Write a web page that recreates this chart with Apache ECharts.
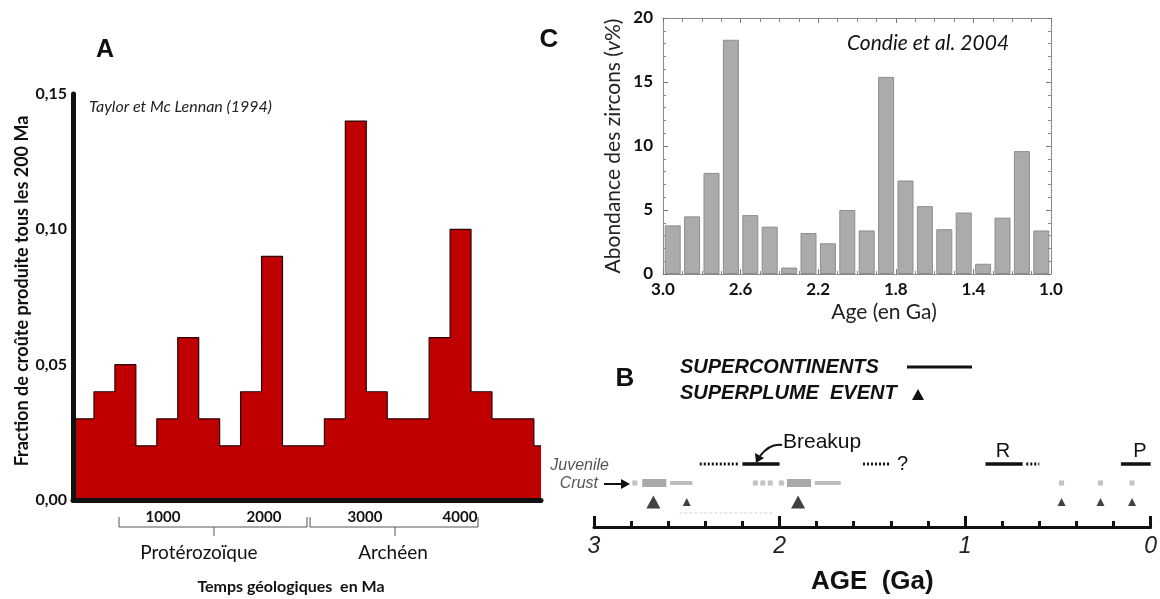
<!DOCTYPE html>
<html><head><meta charset="utf-8">
<script src="https://cdn.jsdelivr.net/npm/echarts@6/dist/echarts.min.js"></script>
<style>html,body{margin:0;padding:0;background:#fff}#c{width:1160px;height:599px}</style>
</head><body><div id="c"></div>
<script>
// ---------- Panel A : Taylor & McLennan (1994) ----------
const crustBinStartMa = [0,200,400,600,800,1000,1200,1400,1600,1800,2000,2200,2400,2600,2800,3000,3200,3400,3600,3800,4000,4200,4400];
const crustFraction   = [0.03,0.04,0.05,0.02,0.03,0.06,0.03,0.02,0.04,0.09,0.02,0.02,0.03,0.14,0.04,0.03,0.03,0.06,0.10,0.04,0.03,0.03,0.02];
const crustEndMa = 4468;
const crustTickLabels = ['1000','2000','3000','4000'];
const eonNames = ['Protérozoïque','Archéen'];

// ---------- Panel C : Condie et al. 2004 ----------
const zirconAgeGa = [2.95,2.85,2.75,2.65,2.55,2.45,2.35,2.25,2.15,2.05,1.95,1.85,1.75,1.65,1.55,1.45,1.35,1.25,1.15,1.05];
const zirconAbundance = [3.8,4.5,7.9,18.3,4.6,3.7,0.5,3.2,2.4,5.0,3.4,15.4,7.3,5.3,3.5,4.8,0.8,4.4,9.6,3.4];

// ---------- Panel B : supercontinents / superplumes ----------
const supercontinentSolid  = [[2.20,2.00],[0.89,0.69],[0.16,0.00]];
const supercontinentDotted = [[2.43,2.22],[1.55,1.41],[0.67,0.60]];
const superplumeBig   = [2.68,1.90];
const superplumeSmall = [2.50,0.48,0.27,0.10];
const juvenileThick = [[2.74,2.61],[1.96,1.83]];
const juvenileThin  = [[2.59,2.47],[1.81,1.67]];
const juvenileDots  = [2.78,2.13,2.09,2.05,1.99,0.48,0.27,0.10];
const faintTrace    = [[2.54,2.03]];

// row levels of panel B (0..100 hidden axis)
const ROW_SC = 63, ROW_JUV = 44, ROW_SP = 25, ROW_FAINT = 14;

const FA = 'Lato, "Open Sans", sans-serif';
const FB = '"Liberation Sans", Arial, sans-serif';

const chart = echarts.init(document.getElementById('c'), null, {renderer:'canvas'});

const stepData = crustBinStartMa.map((m,i)=>[m, crustFraction[i]]);
stepData.push([crustEndMa, crustFraction[crustFraction.length-1]]);

function segSeries(data, row, style){
  return {type:'custom', xAxisIndex:3, yAxisIndex:3, data:data, silent:true,
    renderItem:function(p, api){
      const a = api.coord([api.value(0), row]);
      const b = api.coord([api.value(1), row]);
      return {type:'line', shape:{x1:a[0],y1:a[1],x2:b[0],y2:b[1]}, style:style};
    }};
}
function rectSeries(data, row, h, color){
  return {type:'custom', xAxisIndex:3, yAxisIndex:3, data:data, silent:true,
    renderItem:function(p, api){
      const a = api.coord([api.value(0), row]);
      const b = api.coord([api.value(1), row]);
      return {type:'rect', shape:{x:Math.min(a[0],b[0]), y:a[1]-h/2, width:Math.abs(b[0]-a[0]), height:h}, style:{fill:color}};
    }};
}

const option = {
  animation:false,
  backgroundColor:'#fff',
  grid:[
    {left:73, top:94, width:468, bottom:99, containLabel:false},
    {left:663, top:18, right:109, bottom:325, containLabel:false},
    {left:594, top:427, right:8, bottom:72, containLabel:false}
  ],
  xAxis:[
    {gridIndex:0, type:'value', min:0, max:crustEndMa, z:5,
      axisLine:{show:true, onZero:false, lineStyle:{color:'#111', width:5}},
      axisTick:{show:false}, axisLabel:{show:false}, splitLine:{show:false}},
    {gridIndex:1, type:'value', min:1.0, max:3.0, interval:0.4, inverse:true, position:'bottom',
      axisLine:{show:true, onZero:false, lineStyle:{color:'#8a8a8a', width:1}},
      axisTick:{show:true, inside:true, length:5, lineStyle:{color:'#777'}},
      minorTick:{show:true, splitNumber:4, length:3, lineStyle:{color:'#888'}},
      axisLabel:{show:true, showMinLabel:true, showMaxLabel:true, margin:7, color:'#111',
        fontFamily:FA, fontWeight:'bold', fontSize:17, formatter:v=>v.toFixed(1)},
      splitLine:{show:false}},
    {gridIndex:1, type:'value', min:1.0, max:3.0, interval:0.4, inverse:true, position:'top',
      axisLine:{show:true, onZero:false, lineStyle:{color:'#8a8a8a', width:1}},
      axisTick:{show:true, inside:true, length:5, lineStyle:{color:'#777'}},
      minorTick:{show:true, splitNumber:4, length:4, lineStyle:{color:'#888'}},
      axisLabel:{show:false}, splitLine:{show:false}},
    {gridIndex:2, type:'value', min:0, max:3, interval:1, inverse:true, z:5,
      axisLine:{show:true, onZero:false, lineStyle:{color:'#111', width:3}},
      axisTick:{show:true, inside:true, length:11, lineStyle:{color:'#111', width:3}},
      minorTick:{show:true, splitNumber:5, length:6, lineStyle:{color:'#111', width:3}},
      axisLabel:{show:true, showMinLabel:true, showMaxLabel:true, margin:8, color:'#222',
        fontFamily:FB, fontStyle:'italic', fontSize:23},
      name:'AGE  (Ga)', nameLocation:'middle', nameGap:42,
      nameTextStyle:{fontFamily:FB, fontWeight:'bold', fontSize:26, color:'#111'},
      splitLine:{show:false}}
  ],
  yAxis:[
    {gridIndex:0, type:'value', min:0, max:0.15, interval:0.05, z:5,
      axisLine:{show:true, onZero:false, lineStyle:{color:'#111', width:5}},
      axisTick:{show:false},
      axisLabel:{show:true, margin:6, color:'#111', fontFamily:FA, fontWeight:'bold', fontSize:16,
        formatter:v=>v.toFixed(2).replace('.',',')},
      name:'Fraction de croûte produite tous les 200 Ma', nameLocation:'middle', nameGap:42,
      nameTextStyle:{fontFamily:FA, fontWeight:'bold', fontSize:18, color:'#111', padding:[0,0,0,12]},
      splitLine:{show:false}},
    {gridIndex:1, type:'value', min:0, max:20, interval:5, position:'left',
      axisLine:{show:true, onZero:false, lineStyle:{color:'#8a8a8a', width:1}},
      axisTick:{show:true, inside:true, length:5, lineStyle:{color:'#777'}},
      minorTick:{show:true, splitNumber:5, length:3, lineStyle:{color:'#888'}},
      axisLabel:{show:true, margin:10, color:'#111', fontFamily:FA, fontWeight:'bold', fontSize:17},
      name:'{r|Abondance des zircons (}{i|v}{r|%)}', nameLocation:'middle', nameGap:39,
      nameTextStyle:{rich:{r:{fontFamily:FA, fontSize:21, color:'#222'}, i:{fontFamily:FA, fontSize:21, fontStyle:'italic', color:'#222'}}},
      splitLine:{show:false}},
    {gridIndex:1, type:'value', min:0, max:20, interval:5, position:'right',
      axisLine:{show:true, onZero:false, lineStyle:{color:'#8a8a8a', width:1}},
      axisTick:{show:true, inside:true, length:5, lineStyle:{color:'#777'}},
      minorTick:{show:true, splitNumber:5, length:3, lineStyle:{color:'#888'}},
      axisLabel:{show:false}, splitLine:{show:false}},
    {gridIndex:2, type:'value', min:0, max:100, show:false}
  ],
  series:[
    {type:'line', xAxisIndex:0, yAxisIndex:0, data:stepData, step:'end', symbol:'none',
      lineStyle:{color:'#2b0505', width:1.2}, areaStyle:{color:'#C00000', opacity:1}, silent:true},
    {type:'bar', xAxisIndex:1, yAxisIndex:1, data:zirconAgeGa.map((a,i)=>[a, zirconAbundance[i]]),
      barWidth:16, itemStyle:{color:'#ababab', borderColor:'#8d8d8d', borderWidth:1}, silent:true},
    segSeries(supercontinentSolid, ROW_SC, {stroke:'#111', lineWidth:3.5}),
    segSeries(supercontinentDotted, ROW_SC, {stroke:'#111', lineWidth:3, lineDash:[2,2]}),
    segSeries(faintTrace, ROW_FAINT, {stroke:'#e2e2e2', lineWidth:1.5, lineDash:[3,2]}),
    rectSeries(juvenileThick, ROW_JUV, 8, '#a9a9a9'),
    rectSeries(juvenileThin, ROW_JUV, 4, '#bdbdbd'),
    {type:'scatter', xAxisIndex:3, yAxisIndex:3, data:juvenileDots.map(g=>[g, ROW_JUV]), symbol:'rect', symbolSize:5,
      itemStyle:{color:'#b3b3b3'}, silent:true},
    {type:'scatter', xAxisIndex:3, yAxisIndex:3, data:superplumeBig.map(g=>[g, ROW_SP]), symbol:'triangle', symbolSize:[14,13],
      itemStyle:{color:'#111'}, silent:true},
    {type:'scatter', xAxisIndex:3, yAxisIndex:3, data:superplumeSmall.map(g=>[g, ROW_SP]), symbol:'triangle', symbolSize:[8,8],
      itemStyle:{color:'#111'}, silent:true}
  ],
  graphic:[
    // Panel A texts
    {type:'text', style:{text:'A', x:105, y:50, fill:'#111', font:'bold 25px '+FB, textAlign:'center', textVerticalAlign:'middle'}},
    {type:'text', style:{text:'Taylor et Mc Lennan (1994)', x:89, y:107, fill:'#222', font:'italic 16px '+FA, textAlign:'left', textVerticalAlign:'middle'}},
    {type:'text', style:{text:crustTickLabels[0], x:163, y:517, fill:'#111', font:'bold 15px '+FA, textAlign:'center', textVerticalAlign:'middle'}},
    {type:'text', style:{text:crustTickLabels[1], x:264, y:517, fill:'#111', font:'bold 15px '+FA, textAlign:'center', textVerticalAlign:'middle'}},
    {type:'text', style:{text:crustTickLabels[2], x:365, y:517, fill:'#111', font:'bold 15px '+FA, textAlign:'center', textVerticalAlign:'middle'}},
    {type:'text', style:{text:crustTickLabels[3], x:460, y:517, fill:'#111', font:'bold 15px '+FA, textAlign:'center', textVerticalAlign:'middle'}},
    {type:'polyline', shape:{points:[[119,517],[119,527],[307,527],[307,517]]}, style:{stroke:'#555', lineWidth:1, fill:null}},
    {type:'line', shape:{x1:214,y1:527,x2:214,y2:536}, style:{stroke:'#555', lineWidth:1}},
    {type:'polyline', shape:{points:[[310,517],[310,527],[478,527],[478,517]]}, style:{stroke:'#555', lineWidth:1, fill:null}},
    {type:'line', shape:{x1:395,y1:527,x2:395,y2:536}, style:{stroke:'#555', lineWidth:1}},
    {type:'text', style:{text:eonNames[0], x:199, y:553, fill:'#111', font:'19px '+FA, textAlign:'center', textVerticalAlign:'middle'}},
    {type:'text', style:{text:eonNames[1], x:393, y:553, fill:'#111', font:'19px '+FA, textAlign:'center', textVerticalAlign:'middle'}},
    {type:'text', style:{text:'Temps géologiques  en Ma', x:291, y:587, fill:'#111', font:'bold 16px '+FA, textAlign:'center', textVerticalAlign:'middle'}},
    // Panel C texts
    {type:'text', style:{text:'C', x:549, y:40, fill:'#111', font:'bold 26px '+FB, textAlign:'center', textVerticalAlign:'middle'}},
    {type:'text', style:{text:'Condie et al. 2004', x:847, y:43, fill:'#111', font:'italic 21px '+FA, textAlign:'left', textVerticalAlign:'middle'}},
    {type:'text', style:{text:'Age (en Ga)', x:884, y:312, fill:'#222', font:'21px '+FA, textAlign:'center', textVerticalAlign:'middle'}},
    // Panel B legend & annotations
    {type:'text', style:{text:'B', x:625, y:379, fill:'#111', font:'bold 26px '+FB, textAlign:'center', textVerticalAlign:'middle'}},
    {type:'text', style:{text:'SUPERCONTINENTS', x:680, y:367, fill:'#111', font:'italic bold 20px '+FB, textAlign:'left', textVerticalAlign:'middle'}},
    {type:'line', shape:{x1:907,y1:367,x2:972,y2:367}, style:{stroke:'#111', lineWidth:3}},
    {type:'text', style:{text:'SUPERPLUME  EVENT', x:680, y:393, fill:'#111', font:'italic bold 20px '+FB, textAlign:'left', textVerticalAlign:'middle'}},
    {type:'polygon', shape:{points:[[912,400],[924,400],[918,389]]}, style:{fill:'#111'}},
    {type:'text', style:{text:'Breakup', x:783, y:442, fill:'#111', font:'21px '+FB, textAlign:'left', textVerticalAlign:'middle'}},
    {type:'bezierCurve', shape:{x1:782,y1:445,cpx1:770,cpy1:443,x2:760,y2:456}, style:{stroke:'#111', lineWidth:2, fill:null}},
    {type:'polygon', shape:{points:[[756,463],[755,453],[764,458]]}, style:{fill:'#111'}},
    {type:'text', style:{text:'?', x:897, y:464, fill:'#111', font:'20px '+FB, textAlign:'left', textVerticalAlign:'middle'}},
    {type:'text', style:{text:'R', x:1003, y:451, fill:'#111', font:'20px '+FB, textAlign:'center', textVerticalAlign:'middle'}},
    {type:'text', style:{text:'P', x:1140, y:451, fill:'#111', font:'20px '+FB, textAlign:'center', textVerticalAlign:'middle'}},
    {type:'text', style:{text:'Juvenile', x:609, y:466, fill:'#555', font:'italic 16px '+FB, textAlign:'right', textVerticalAlign:'middle'}},
    {type:'text', style:{text:'Crust', x:598, y:484, fill:'#555', font:'italic 16px '+FB, textAlign:'right', textVerticalAlign:'middle'}},
    {type:'line', shape:{x1:604,y1:484,x2:623,y2:484}, style:{stroke:'#111', lineWidth:2}},
    {type:'polygon', shape:{points:[[630,484],[621,479],[621,489]]}, style:{fill:'#111'}}
  ]
};
chart.setOption(option);
</script></body></html>
